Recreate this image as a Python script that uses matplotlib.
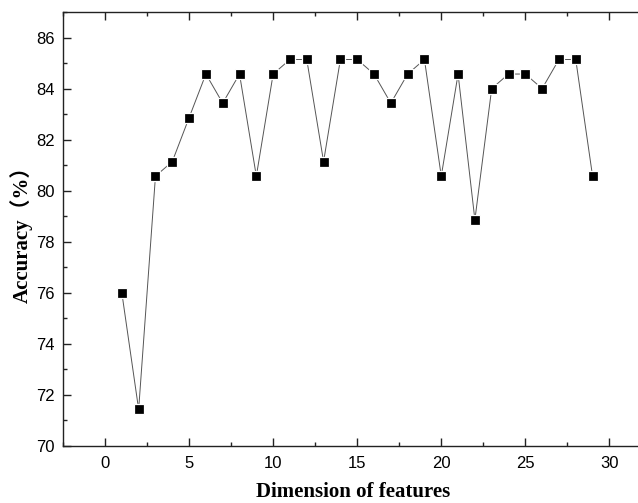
import matplotlib
matplotlib.use("Agg")
import matplotlib.pyplot as plt
from matplotlib.ticker import MultipleLocator

# feature dimension vs accuracy
dims = list(range(1, 30))
accuracy = [76.00, 71.43, 80.57, 81.14, 82.86, 84.57, 83.43, 84.57, 80.57, 84.57,
            85.14, 85.14, 81.14, 85.14, 85.14, 84.57, 83.43, 84.57, 85.14, 80.57,
            84.57, 78.86, 84.00, 84.57, 84.57, 84.00, 85.14, 85.14, 80.57]

fig = plt.figure(figsize=(6.38, 5.03), dpi=100)
# right edge of the box falls just outside the picture, as in the original
ax = fig.add_axes([63 / 638, 57 / 503, 580 / 638, 434 / 503])

ax.plot(dims, accuracy, color='#555555', linewidth=0.7,
        marker='s', markersize=7.4, markerfacecolor='black',
        markeredgecolor='white', markeredgewidth=0.9)

ax.set_xlim(-2.5, 32)
ax.set_ylim(70, 87)
ax.xaxis.set_major_locator(MultipleLocator(5))
ax.xaxis.set_minor_locator(MultipleLocator(2.5))
ax.yaxis.set_major_locator(MultipleLocator(2))
ax.yaxis.set_minor_locator(MultipleLocator(1))

for s in ax.spines.values():
    s.set_linewidth(1.0)
    s.set_color('#222222')

ax.tick_params(which='both', direction='in', top=True, right=False, width=1.0, color='#222222')
ax.tick_params(which='major', length=5.5)
ax.tick_params(which='minor', length=3)
ax.tick_params(axis='y', which='major', pad=6)
ax.tick_params(axis='x', which='major', pad=7)
for lab in ax.get_xticklabels() + ax.get_yticklabels():
    lab.set_fontfamily('Liberation Sans')
    lab.set_fontsize(12)

ax.set_xlabel('Dimension of features', fontfamily='Liberation Serif',
              fontweight='bold', fontsize=15, labelpad=8)
ax.set_ylabel('Accuracy（%）', family=['Liberation Serif', 'Noto Sans CJK SC'],
              fontweight='bold', fontsize=15, labelpad=2)

fig.savefig('out.png', dpi=100)
